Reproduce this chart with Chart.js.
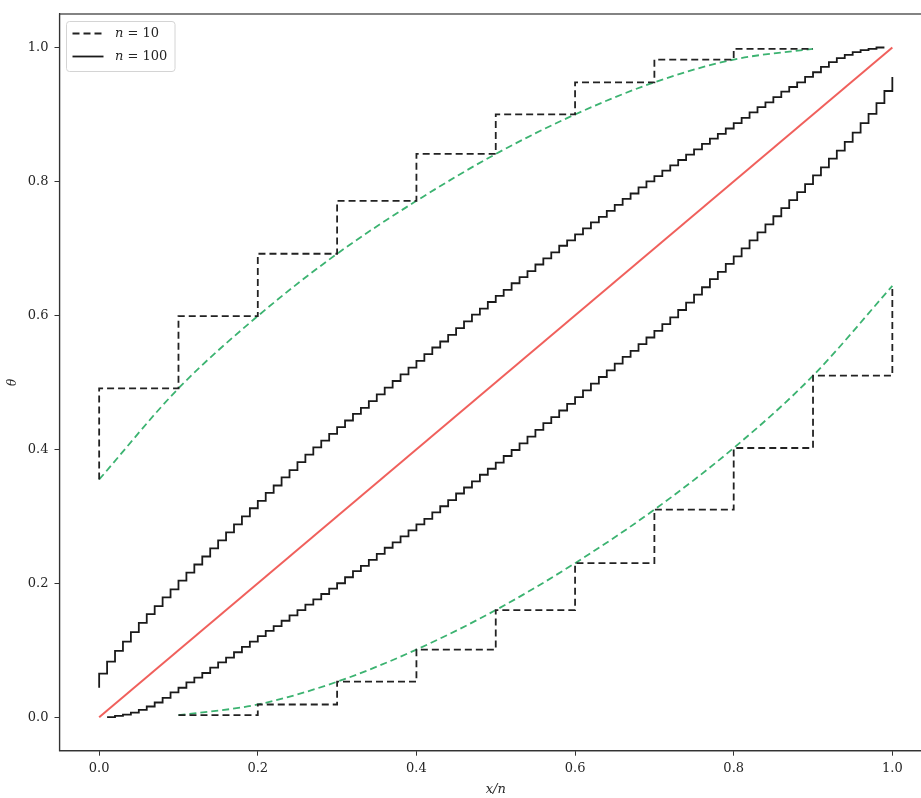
<!DOCTYPE html>
<html>
<head>
<meta charset="utf-8">
<script src="https://cdn.jsdelivr.net/npm/chart.js@4.4.1/dist/chart.umd.min.js"></script>
<style>
html,body{margin:0;padding:0;overflow:hidden;background:#fff}
canvas{display:block}
</style>
</head>
<body>
<canvas id="chart" width="935" height="798"></canvas>
<script>
// tick labels
const xTicks = [0.0, 0.2, 0.4, 0.6, 0.8, 1.0];
const yTicks = [0.0, 0.2, 0.4, 0.6, 0.8, 1.0];

// n = 10 bounds (upper at x/n = 0 .. 0.9, lower at x/n = 0.1 .. 1.0)
const n10Upper = [0.355, 0.491, 0.599, 0.692, 0.771, 0.841, 0.900, 0.948, 0.982, 0.998];
const n10Lower = [0.003, 0.019, 0.053, 0.101, 0.160, 0.230, 0.310, 0.402, 0.510, 0.644];

// n = 100 bounds (upper at x/n = 0 .. 0.99, lower at x/n = 0.01 .. 1.0)
const n100Upper = [0.044,
  0.065,0.083,0.099,0.113,0.127,0.141,0.154,0.166,0.179,0.191,
  0.204,0.216,0.228,0.240,0.252,0.264,0.276,0.288,0.300,0.312,
  0.323,0.335,0.346,0.358,0.369,0.381,0.392,0.403,0.413,0.423,
  0.433,0.443,0.453,0.462,0.472,0.482,0.492,0.502,0.512,0.522,
  0.532,0.542,0.552,0.561,0.571,0.581,0.591,0.601,0.610,0.620,
  0.629,0.638,0.648,0.657,0.666,0.676,0.685,0.694,0.704,0.712,
  0.721,0.730,0.739,0.747,0.756,0.765,0.774,0.782,0.791,0.800,
  0.808,0.816,0.824,0.832,0.840,0.848,0.856,0.864,0.871,0.879,
  0.887,0.895,0.903,0.911,0.918,0.926,0.934,0.941,0.948,0.956,
  0.963,0.971,0.978,0.984,0.989,0.993,0.996,0.998,1.000];
const n100Lower = [
  0.000,0.002,0.004,0.007,0.011,0.016,0.022,0.029,0.037,
  0.044,0.052,0.059,0.066,0.074,0.082,0.089,0.097,0.105,0.113,
  0.121,0.129,0.136,0.144,0.152,0.160,0.168,0.176,0.184,0.192,
  0.200,0.209,0.218,0.226,0.235,0.244,0.253,0.261,0.270,0.279,
  0.288,0.296,0.306,0.315,0.324,0.334,0.343,0.352,0.362,0.371,
  0.380,0.390,0.399,0.409,0.419,0.429,0.439,0.448,0.458,0.468,
  0.478,0.488,0.498,0.508,0.518,0.528,0.538,0.547,0.557,0.567,
  0.577,0.587,0.597,0.608,0.619,0.631,0.642,0.654,0.665,0.677,
  0.688,0.700,0.712,0.724,0.736,0.748,0.760,0.772,0.784,0.796,
  0.809,0.821,0.834,0.846,0.859,0.873,0.887,0.901,0.917,0.935,
  0.956];

const diagonal = [0.0, 1.0];

const FONT = "'DejaVu Serif', 'Liberation Serif', serif";
const INK = '#262626';
const GREEN = '#3cb371';

// values -> {x, y} with x = (i + first) / n
const pts = (vals, n, first) => vals.map((v, i) => ({ x: (i + first) / n, y: v }));

const frame = {
  id: 'frame',
  afterDatasetsDraw(chart){
    const { ctx, chartArea: a } = chart;
    ctx.save();
    ctx.strokeStyle = '#333'; ctx.lineWidth = 1.2;
    ctx.strokeRect(a.left, a.top, a.right - a.left, a.bottom - a.top);
    ctx.restore();
  }
};

const mathLegend = {
  id: 'mathLegend',
  afterDraw(chart){
    const ctx = chart.ctx;
    const items = chart.data.datasets.filter(d => d.legendText);
    ctx.save();
    const x0 = 66.5, y0 = 21.5, w = 108.5, h = 50, r = 3;
    ctx.beginPath(); ctx.roundRect(x0, y0, w, h, r);
    ctx.fillStyle = 'rgba(255,255,255,0.85)'; ctx.fill();
    ctx.strokeStyle = '#d4d4d4'; ctx.lineWidth = 1; ctx.stroke();
    items.forEach((d, i) => {
      const y = 33.5 + i * 23;
      ctx.beginPath(); ctx.setLineDash(d.borderDash || []);
      ctx.strokeStyle = d.borderColor; ctx.lineWidth = d.borderWidth;
      ctx.moveTo(72.5, y); ctx.lineTo(103.5, y); ctx.stroke();
      ctx.setLineDash([]);
      ctx.fillStyle = INK; ctx.textBaseline = 'middle'; ctx.textAlign = 'left';
      ctx.font = 'italic 13px ' + FONT;
      ctx.fillText('n', 115, y);
      const nw = ctx.measureText('n').width;
      ctx.font = '13px ' + FONT;
      ctx.fillText(' = ' + d.legendText, 115 + nw, y);
    });
    ctx.restore();
  }
};

const lineBase = { pointRadius: 0, pointHoverRadius: 0, fill: false };

new Chart(document.getElementById('chart').getContext('2d'), {
  type: 'line',
  data: {
    datasets: [
      { ...lineBase, label: 'n = 10', legendText: '10', data: pts(n10Upper, 10, 0), stepped: 'after', borderColor: '#222', borderWidth: 1.8, borderDash: [7, 4] },
      { ...lineBase, label: 'n = 10 lower', data: pts(n10Lower, 10, 1), stepped: 'before', borderColor: '#222', borderWidth: 1.8, borderDash: [7, 4] },
      { ...lineBase, label: 'n = 100', legendText: '100', data: pts(n100Upper, 100, 0), stepped: 'after', borderColor: '#1a1a1a', borderWidth: 1.8 },
      { ...lineBase, label: 'n = 100 lower', data: pts(n100Lower, 100, 1), stepped: 'before', borderColor: '#1a1a1a', borderWidth: 1.8 },
      { ...lineBase, label: 'upper curve', data: pts(n10Upper, 10, 0), cubicInterpolationMode: 'monotone', borderColor: GREEN, borderWidth: 1.8, borderDash: [7, 4] },
      { ...lineBase, label: 'lower curve', data: pts(n10Lower, 10, 1), cubicInterpolationMode: 'monotone', borderColor: GREEN, borderWidth: 1.8, borderDash: [7, 4] },
      { ...lineBase, label: 'theta = x/n', data: pts(diagonal, 1, 0), borderColor: '#f0605c', borderWidth: 2 }
    ]
  },
  options: {
    responsive: false,
    animation: false,
    devicePixelRatio: 1,
    layout: { padding: { left: 0, top: 14, right: 3, bottom: 0 } },
    plugins: { legend: { display: false }, tooltip: { enabled: false } },
    scales: {
      x: {
        type: 'linear', min: -0.05, max: 1.05,
        afterFit: s => { s.height = 47.3; },
        afterBuildTicks: s => { s.ticks = xTicks.map(v => ({ value: v })); },
        grid: { drawOnChartArea: false, drawTicks: true, tickLength: 5, tickColor: '#333' },
        border: { display: true, color: '#333', width: 1.2 },
        ticks: { padding: 5, color: INK, font: { family: FONT, size: 13 }, callback: v => v.toFixed(1), maxRotation: 0 },
        title: { display: true, text: 'x/n', color: INK, font: { family: FONT, size: 13, style: 'italic' }, padding: { top: 0, bottom: 1 } }
      },
      y: {
        type: 'linear', min: -0.05, max: 1.05,
        afterFit: s => { s.width = 59.5; },
        afterBuildTicks: s => { s.ticks = yTicks.map(v => ({ value: v })); },
        grid: { drawOnChartArea: false, drawTicks: true, tickLength: 5, tickColor: '#333' },
        border: { display: true, color: '#333', width: 1.2 },
        ticks: { padding: 6, color: INK, font: { family: FONT, size: 13 }, callback: v => v.toFixed(1) },
        title: { display: true, text: 'θ', color: INK, font: { family: FONT, size: 12, style: 'italic' }, padding: { top: 6, bottom: 0 } }
      }
    }
  },
  plugins: [frame, mathLegend]
});
</script>
</body>
</html>
